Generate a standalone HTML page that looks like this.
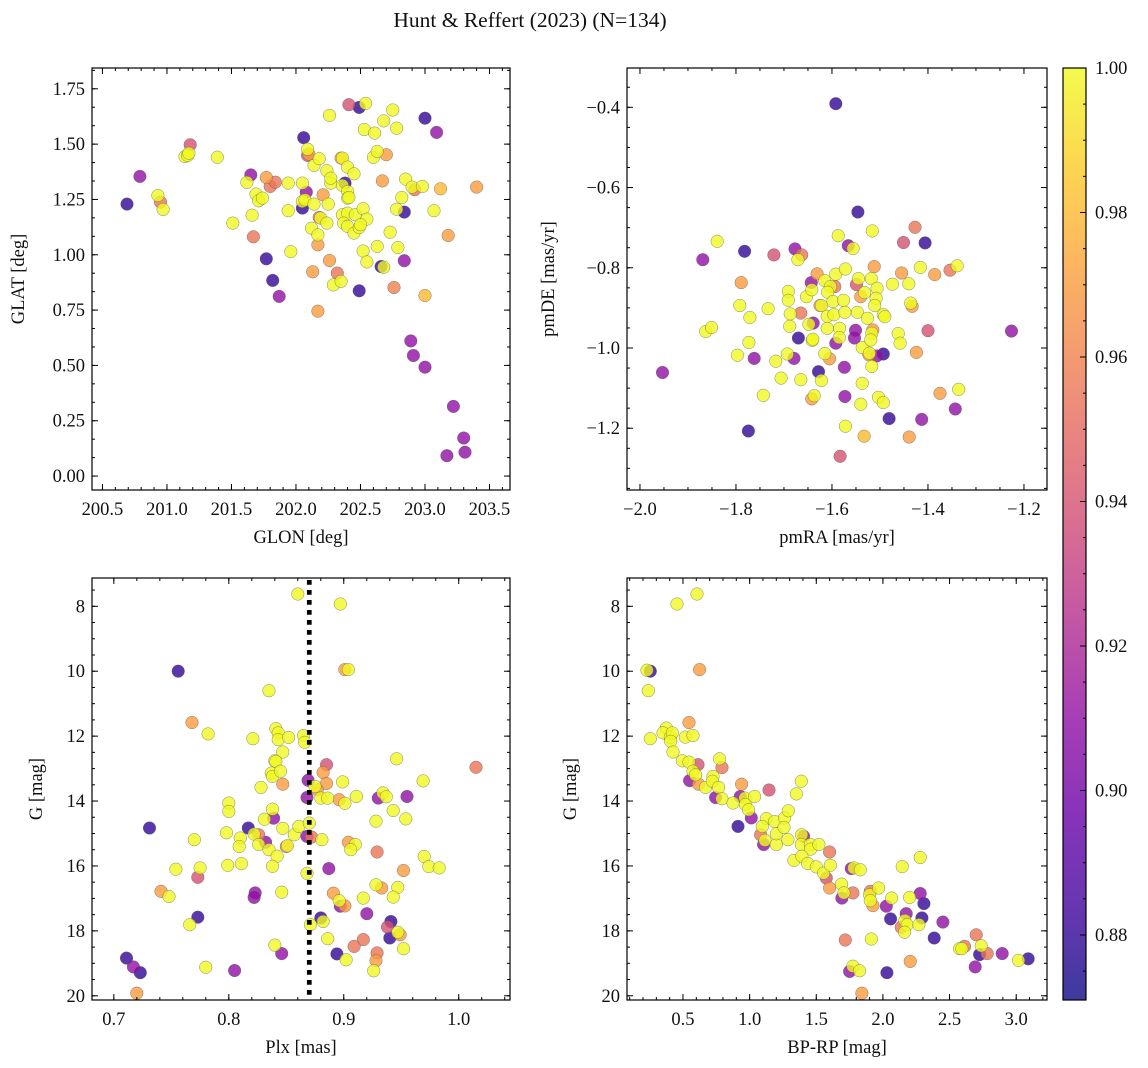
<!DOCTYPE html>
<html>
<head>
<meta charset="utf-8">
<style>
html,body{margin:0;padding:0;background:#fff;}
svg{display:block;}
text{font-family:"Liberation Serif",serif;fill:#111;}
</style>
</head>
<body>
<svg id="fig" width="1148" height="1068" viewBox="0 0 1148 1068" xmlns="http://www.w3.org/2000/svg">
<defs>
<linearGradient id="cbgrad" x1="0" y1="1" x2="0" y2="0"></linearGradient>
</defs>
<text x="530" y="27" font-size="21.5" text-anchor="middle">Hunt &amp; Reffert (2023) (N=134)</text>
</svg>
<script>
// ---- Panel 1 data: GLON / GLAT ----
const glon=[200.69,200.79,200.93,200.95,200.97,201.18,201.14,201.16,201.17,201.39,201.51,201.65,201.62,201.66,201.67,201.69,201.71,201.74,201.77,201.80,201.84,201.77,201.82,201.87,201.94,201.94,201.96,202.06,202.05,202.08,202.05,202.05,202.07,202.09,202.09,202.10,202.14,202.14,202.18,202.21,202.24,202.27,202.27,202.25,202.18,202.19,202.24,202.12,202.17,202.17,202.26,202.13,202.26,202.32,202.29,202.35,202.17,202.41,202.49,202.54,202.35,202.36,202.40,202.45,202.38,202.36,202.40,202.40,202.41,202.36,202.40,202.37,202.40,202.45,202.46,202.52,202.55,202.49,202.50,202.49,202.53,202.61,202.60,202.63,202.70,202.68,202.75,202.78,202.67,202.52,202.55,202.63,202.66,202.68,202.73,202.76,202.79,202.78,202.84,202.84,202.82,202.85,202.90,202.92,202.98,203.00,203.00,203.09,203.07,203.12,203.18,203.40,202.89,202.91,203.00,203.22,203.30,203.31,203.17];
const glat=[1.229,1.354,1.268,1.238,1.205,1.497,1.444,1.449,1.459,1.441,1.143,1.361,1.327,1.179,1.081,1.274,1.244,1.256,1.349,1.309,1.328,0.982,0.884,0.812,1.324,1.199,1.014,1.529,1.324,1.283,1.211,1.241,1.248,1.449,1.477,1.455,1.229,1.404,1.434,1.271,1.380,1.324,1.346,1.229,1.169,1.166,1.143,1.120,1.090,1.045,0.974,0.923,1.630,0.917,0.864,0.880,0.745,1.678,1.666,1.684,1.437,1.437,1.396,1.366,1.324,1.313,1.286,1.256,1.259,1.181,1.188,1.143,1.128,1.098,1.181,1.208,1.161,1.123,1.136,0.837,1.566,1.550,1.440,1.467,1.452,1.605,1.654,1.572,1.334,1.017,0.968,1.038,0.947,0.944,1.102,0.852,1.033,1.206,1.193,0.973,1.259,1.342,1.306,1.294,1.309,1.617,0.816,1.553,1.199,1.298,1.087,1.306,0.611,0.545,0.492,0.315,0.172,0.108,0.092];
const prob1=[0.88,0.91,1,0.955,1,0.94,1,1,1,1,1,0.91,1,1,0.955,1,1,1,0.97,0.955,0.955,0.88,0.88,0.91,1,1,1,0.88,1,0.91,0.88,1,1,0.94,1,0.97,1,1,1,0.97,1,1,1,1,0.955,1,1,1,1,0.97,0.97,0.97,1,0.955,1,1,0.97,0.94,0.88,1,0.97,1,1,1,0.88,1,1,1,1,1,1,1,1,1,1,1,1,1,1,0.88,1,1,1,1,0.97,1,1,1,0.97,1,1,1,0.88,1,1,0.96,1,1,0.88,0.91,1,1,1,0.955,1,0.88,0.98,0.91,1,0.98,0.97,0.97,0.91,0.91,0.91,0.91,0.91,0.91,0.91];
const glonTicks=[200.5,201.0,201.5,202.0,202.5,203.0,203.5];
const glatTicks=[0.00,0.25,0.50,0.75,1.00,1.25,1.50,1.75];

// ---- Panel 2 data: pmRA / pmDE ----
const pmra=[-1.592,-1.546,-1.427,-1.516,-1.451,-1.406,-1.587,-1.566,-1.556,-1.839,-1.869,-1.782,-1.721,-1.677,-1.663,-1.671,-1.789,-1.631,-1.592,-1.572,-1.512,-1.455,-1.416,-1.386,-1.354,-1.339,-1.643,-1.615,-1.603,-1.594,-1.549,-1.545,-1.518,-1.506,-1.474,-1.440,-1.691,-1.691,-1.653,-1.642,-1.609,-1.598,-1.576,-1.540,-1.532,-1.508,-1.511,-1.436,-1.433,-1.792,-1.733,-1.771,-1.687,-1.665,-1.625,-1.622,-1.610,-1.596,-1.573,-1.547,-1.526,-1.493,-1.490,-1.863,-1.851,-1.688,-1.639,-1.648,-1.610,-1.584,-1.551,-1.515,-1.517,-1.462,-1.458,-1.400,-1.226,-1.670,-1.641,-1.640,-1.592,-1.585,-1.553,-1.537,-1.519,-1.773,-1.797,-1.762,-1.717,-1.693,-1.679,-1.615,-1.605,-1.574,-1.523,-1.522,-1.507,-1.493,-1.517,-1.424,-1.953,-1.706,-1.665,-1.628,-1.622,-1.743,-1.642,-1.637,-1.573,-1.537,-1.540,-1.503,-1.493,-1.375,-1.336,-1.343,-1.481,-1.413,-1.774,-1.572,-1.533,-1.439,-1.583];
const pmde=[-0.391,-0.661,-0.699,-0.708,-0.737,-0.738,-0.720,-0.745,-0.752,-0.734,-0.780,-0.759,-0.768,-0.753,-0.768,-0.780,-0.837,-0.815,-0.816,-0.803,-0.797,-0.813,-0.799,-0.817,-0.806,-0.795,-0.837,-0.832,-0.847,-0.847,-0.842,-0.827,-0.827,-0.851,-0.841,-0.840,-0.859,-0.881,-0.872,-0.855,-0.861,-0.884,-0.881,-0.872,-0.862,-0.876,-0.894,-0.888,-0.896,-0.894,-0.902,-0.924,-0.915,-0.913,-0.894,-0.894,-0.921,-0.917,-0.911,-0.911,-0.926,-0.917,-0.922,-0.959,-0.949,-0.946,-0.938,-0.941,-0.951,-0.951,-0.956,-0.955,-0.963,-0.964,-0.988,-0.957,-0.958,-0.975,-0.981,-0.978,-0.988,-0.974,-0.975,-0.999,-0.980,-0.986,-1.018,-1.026,-1.033,-1.015,-1.026,-1.014,-1.027,-1.048,-1.017,-1.013,-1.020,-1.015,-1.046,-1.011,-1.061,-1.075,-1.079,-1.059,-1.081,-1.118,-1.127,-1.119,-1.121,-1.088,-1.140,-1.123,-1.136,-1.113,-1.103,-1.152,-1.176,-1.178,-1.207,-1.195,-1.220,-1.222,-1.270];
const prob2=[0.88,0.88,0.955,1,0.94,0.88,1,0.91,1,1,0.91,0.88,0.94,0.91,0.955,1,0.97,0.97,1,1,0.97,0.97,1,0.97,0.955,1,0.91,1,1,0.955,0.94,1,1,1,1,1,1,1,1,1,1,1,1,0.97,1,1,1,1,0.97,1,1,1,1,0.955,0.97,1,1,1,1,1,1,1,1,1,1,1,0.91,1,1,1,0.91,0.97,1,1,1,0.94,0.91,0.88,1,1,0.91,1,0.91,1,1,1,1,0.91,1,1,0.91,1,0.97,0.91,0.97,1,0.91,0.88,1,0.97,0.91,1,1,0.88,1,1,0.97,1,0.91,1,1,1,1,0.97,1,0.91,0.88,0.91,0.88,1,0.98,0.97,0.94];
const pmraTicks=[-2.0,-1.8,-1.6,-1.4,-1.2];
const pmdeTicks=[-0.4,-0.6,-0.8,-1.0,-1.2];

// ---- Panel 3 data: Plx / G ----
const plx=[0.860,0.897,0.756,0.901,0.904,0.835,0.768,0.782,0.821,0.841,0.843,0.843,0.852,0.865,0.866,0.847,0.840,0.841,0.837,0.838,0.845,0.828,0.847,0.885,0.882,0.885,0.869,0.875,0.877,0.868,0.880,0.886,0.899,0.896,0.901,0.911,0.930,0.934,0.937,0.955,0.946,0.969,1.015,0.800,0.800,0.838,0.839,0.831,0.817,0.822,0.826,0.832,0.826,0.835,0.842,0.838,0.847,0.857,0.861,0.870,0.868,0.872,0.881,0.851,0.850,0.798,0.810,0.809,0.770,0.731,0.754,0.775,0.773,0.799,0.811,0.868,0.887,0.904,0.910,0.906,0.928,0.943,0.954,0.929,0.970,0.974,0.983,0.952,0.741,0.748,0.823,0.822,0.846,0.891,0.896,0.897,0.901,0.917,0.928,0.933,0.947,0.943,0.920,0.941,0.938,0.940,0.947,0.949,0.773,0.766,0.880,0.882,0.871,0.886,0.917,0.909,0.840,0.846,0.894,0.902,0.929,0.928,0.926,0.952,0.711,0.717,0.723,0.780,0.805,0.720];
const g3=[7.62,7.93,10.00,9.95,9.95,10.60,11.58,11.93,12.08,11.77,11.90,12.11,12.04,11.98,12.19,12.49,12.76,12.78,13.14,13.24,13.08,13.58,13.48,12.88,13.12,13.46,13.36,13.55,13.65,13.89,13.91,13.91,13.41,13.96,14.07,13.86,13.91,13.75,13.87,13.86,12.70,13.38,12.96,14.06,14.32,14.25,14.53,14.56,14.83,15.02,15.04,15.27,15.34,15.50,15.70,16.01,14.84,15.04,14.78,14.68,15.09,15.11,15.19,15.38,15.40,14.98,15.14,15.40,15.19,14.83,16.10,16.06,16.35,15.98,15.93,16.23,16.08,15.27,15.34,15.50,14.62,14.29,14.55,15.57,15.71,16.02,16.06,16.14,16.78,16.94,16.83,16.97,16.81,16.84,17.07,17.24,17.23,16.99,16.58,16.68,16.66,16.96,17.47,17.71,17.88,18.22,18.04,18.12,17.58,17.81,17.60,17.71,17.81,18.24,18.27,18.48,18.44,18.70,18.71,18.89,18.68,18.92,19.23,18.55,18.84,19.11,19.29,19.12,19.22,19.92];
const prob3=[1,1,0.88,0.97,1,1,0.97,1,1,1,1,1,1,1,1,1,1,1,1,1,1,1,0.97,0.94,0.97,0.97,0.91,1,0.97,0.91,1,1,1,0.97,1,1,0.91,1,1,0.91,1,1,0.955,1,1,1,0.91,1,0.88,1,0.955,0.91,1,1,1,1,1,1,1,1,0.91,0.955,1,1,0.96,1,1,1,1,0.88,1,1,0.94,1,1,1,0.91,0.97,1,1,1,1,1,0.955,1,1,1,0.97,0.97,1,0.91,0.91,1,0.97,1,0.91,0.97,1,1,0.97,1,1,0.91,0.88,0.94,0.88,1,0.97,0.88,1,0.88,1,1,1,0.955,0.955,1,0.91,0.88,1,0.955,0.97,1,1,0.88,0.91,0.88,1,0.91,0.97];
const plxTicks=[0.7,0.8,0.9,1.0];
const gTicks=[8,10,12,14,16,18,20];
const plxCut=[0.87];

// ---- Panel 4 data: BP-RP / G ----
const bprp=[0.455,0.605,0.255,0.23,0.625,0.24,0.545,0.255,0.375,0.35,0.405,0.42,0.4075,0.425,0.5175,0.575,0.495,0.545,0.6125,0.575,0.595,0.55,0.6175,0.67,0.725,0.72,0.7675,0.775,0.7925,0.745,0.7925,0.875,0.94,0.93,0.965,0.9675,0.9925,1.0125,1.0375,1.145,0.9125,1.0825,1.105,1.115,1.125,1.095,1.2,1.2,1.1875,1.2625,1.2575,1.29,1.2875,1.3875,1.35,1.405,1.39,1.3875,1.455,1.4575,1.52,1.3325,1.3925,1.435,1.5,1.555,1.575,1.6,1.605,1.6,1.69,1.6925,1.7075,1.775,1.7625,1.7825,1.83,1.905,1.9,1.925,1.905,1.9675,2.025,2.0575,2.065,2.145,2.2,2.28,2.28,2.3075,2.175,2.1375,2.165,2.1825,2.1625,2.27,2.2925,2.45,2.385,1.9125,1.7175,2.03,2.205,1.75,1.775,1.825,1.8425,2.575,2.6125,2.5925,2.7,2.7375,2.725,2.7825,2.895,2.6925,3.0175,3.09];
const g4=[7.93,7.62,10.00,9.97,9.95,10.60,11.58,12.08,11.75,11.90,12.04,11.90,12.16,12.49,12.03,11.98,12.76,12.80,12.88,13.08,13.19,13.37,13.48,13.58,13.24,13.39,13.58,12.70,12.97,13.89,13.93,14.06,13.48,13.86,13.91,14.11,14.27,14.52,13.86,13.66,14.78,15.04,15.34,15.21,14.54,14.78,15.34,15.01,14.63,14.52,14.81,14.30,15.19,13.39,13.78,15.09,15.04,15.34,15.34,15.48,15.34,15.83,15.70,15.92,16.03,16.22,16.37,15.57,15.98,16.68,16.56,16.99,16.83,16.83,16.08,16.06,16.12,16.78,16.89,17.22,17.07,16.68,17.24,17.63,16.99,16.02,16.97,15.74,16.85,17.16,17.47,17.89,17.68,17.81,18.04,17.81,17.60,17.73,18.22,18.25,18.28,19.29,18.94,19.25,19.09,19.23,19.92,18.55,18.48,18.55,18.12,18.46,18.73,18.70,18.70,19.11,18.91,18.86];
const prob4=[1,1,0.88,1,0.97,1,0.97,1,1,1,1,1,1,1,1,1,1,1,0.94,1,1,0.91,0.97,1,1,1,1,1,0.955,0.91,1,1,0.97,0.91,1,1,1,0.91,1,0.94,0.88,0.955,0.91,1,1,1,1,1,1,1,1,1,1,1,1,0.91,1,1,1,1,1,1,1,1,1,1,0.94,0.955,1,0.97,1,0.91,1,0.955,0.91,1,1,0.955,1,0.97,1,1,0.91,0.88,1,1,1,1,0.91,0.88,0.91,0.955,1,1,1,1,0.88,0.91,0.88,1,0.955,0.88,0.97,0.91,1,1,0.97,1,0.955,1,0.955,1,0.88,0.955,0.91,0.91,1,0.88];
const bprpTicks=[0.5,1.0,1.5,2.0,2.5,3.0];
const cbTicks=[0.88,0.90,0.92,0.94,0.96,0.98,1.00];
const cbMin=0.871, cbMax=1.0;

const NS='http://www.w3.org/2000/svg';
const svg=document.getElementById('fig');
const TF=18.5, LF=18.5;
function mk(tag,attrs,parent){const e=document.createElementNS(NS,tag);for(const k in attrs)e.setAttribute(k,attrs[k]);(parent||svg).appendChild(e);return e;}
const stops=[[13,8,135],[65,4,157],[106,0,168],[143,13,164],[177,42,144],[204,71,120],[225,100,98],[242,132,75],[252,166,54],[252,206,37],[240,249,33]];
function plasma(t){t=Math.max(0,Math.min(1,t));const f=t*10,i=Math.min(9,Math.floor(f)),u=f-i;const a=stops[i],b=stops[i+1];return 'rgb('+a.map((v,k)=>Math.round(v+(b[k]-v)*u)).join(',')+')';}
function cnorm(p){return (p-cbMin)/(cbMax-cbMin);}
function fmt(v,d){const s=Math.abs(v).toFixed(d);return (v<-1e-9?'\u2212':'')+s;}

function panel(cfg){
  const {id,x0,x1,y0,y1,xmin,xmax,ymin,ymax,inv}=cfg;
  const sx=v=>x0+(v-xmin)/(xmax-xmin)*(x1-x0);
  const sy=inv?(v=>y0+(v-ymin)/(ymax-ymin)*(y1-y0)):(v=>y1-(v-ymin)/(ymax-ymin)*(y1-y0));
  const g=mk('g',{});
  
  
  const idx=cfg.xs.map((_,i)=>i).sort((a,b)=>cfg.cs[a]-cfg.cs[b]||a-b);
  const pg=mk('g',{},g);
  
  
  idx.forEach(i=>{
    const c=mk('circle',{cx:sx(cfg.xs[i]).toFixed(1),cy:sy(cfg.ys[i]).toFixed(1),r:6.3,fill:plasma(cnorm(cfg.cs[i])),'fill-opacity':0.8,stroke:'#555','stroke-width':0.5,'stroke-opacity':0.7},pg);
    
    
  });
  if(cfg.vline){cfg.vline.forEach(v=>{
    const l=mk('line',{x1:sx(v),x2:sx(v),y1:y0+2,y2:y1,stroke:'#000','stroke-width':4.7,'stroke-dasharray':'4.7 5.3'},g);
    
    
  });}
  const tg=mk('g',{stroke:'#000','stroke-width':1},g);
  
  
  function xt(v,len){const X=sx(v);if(X<x0-0.5||X>x1+0.5)return;mk('line',{x1:X,x2:X,y1:y1,y2:y1-len},tg);mk('line',{x1:X,x2:X,y1:y0,y2:y0+len},tg);}
  function yt(v,len){const Y=sy(v);if(Y<y0-0.5||Y>y1+0.5)return;mk('line',{x1:x0,x2:x0+len,y1:Y,y2:Y},tg);mk('line',{x1:x1,x2:x1-len,y1:Y,y2:Y},tg);}
  for(let v=Math.ceil(Math.min(xmin,xmax)/cfg.xMin)*cfg.xMin;v<=Math.max(xmin,xmax);v+=cfg.xMin)xt(v,3);
  for(let v=Math.ceil(Math.min(ymin,ymax)/cfg.yMin)*cfg.yMin;v<=Math.max(ymin,ymax);v+=cfg.yMin)yt(v,3);
  cfg.xT.forEach(v=>xt(v,6));
  cfg.yT.forEach(v=>yt(v,6));
  cfg.xT.forEach(v=>{
    const t=mk('text',{x:sx(v),y:y1+25,'font-size':TF,'text-anchor':'middle'},g);
    t.textContent=fmt(v,cfg.xd);
    
    
  });
  cfg.yT.forEach(v=>{
    const t=mk('text',{x:x0-7,y:sy(v)+6,'font-size':TF,'text-anchor':'end'},g);
    t.textContent=fmt(v,cfg.yd);
    
    
  });
  const fr=mk('rect',{x:x0,y:y0,width:x1-x0,height:y1-y0,fill:'none',stroke:'#000','stroke-width':1.2},g);
  
  
  const xl=mk('text',{x:(x0+x1)/2,y:y1+53,'font-size':LF,'text-anchor':'middle'},g);
  xl.textContent=cfg.xlab;
  
  
  const yc=(y0+y1)/2;
  const yl=mk('text',{x:cfg.ylx,y:yc,'font-size':LF,'text-anchor':'middle','dominant-baseline':'central',transform:'rotate(-90 '+cfg.ylx+' '+yc+')'},g);
  yl.textContent=cfg.ylab;
  
  
}

panel({id:'glon-glat',x0:92,x1:510,y0:68,y1:490,xmin:200.419,xmax:203.659,ymin:-0.063,ymax:1.844,inv:false,xs:glon,ys:glat,cs:prob1,xT:glonTicks,yT:glatTicks,xMin:0.1,yMin:0.25/3,xd:1,yd:2,xlab:'GLON [deg]',ylab:'GLAT [deg]',ylx:19});
panel({id:'pm',x0:627,x1:1047,y0:68,y1:490,xmin:-2.027,xmax:-1.152,ymin:-1.354,ymax:-0.302,inv:false,xs:pmra,ys:pmde,cs:prob2,xT:pmraTicks,yT:pmdeTicks,xMin:0.05,yMin:0.05,xd:1,yd:1,xlab:'pmRA [mas/yr]',ylab:'pmDE [mas/yr]',ylx:549});
panel({id:'plx-g',x0:92,x1:510,y0:578,y1:1000,xmin:0.681,xmax:1.0446,ymin:7.128,ymax:20.13,inv:true,xs:plx,ys:g3,cs:prob3,xT:plxTicks,yT:gTicks,xMin:0.02,yMin:0.5,xd:1,yd:0,xlab:'Plx [mas]',ylab:'G [mag]',ylx:37,vline:plxCut});
panel({id:'cmd',x0:627,x1:1047,y0:578,y1:1000,xmin:0.080,xmax:3.231,ymin:7.128,ymax:20.13,inv:true,xs:bprp,ys:g4,cs:prob4,xT:bprpTicks,yT:gTicks,xMin:0.1,yMin:0.5,xd:1,yd:0,xlab:'BP-RP [mag]',ylab:'G [mag]',ylx:571});

const grad=document.getElementById('cbgrad');
for(let i=0;i<=20;i++){mk('stop',{offset:(i/20),'stop-color':plasma(i/20)},grad);}
const cx0=1063,cx1=1086,cy0=68,cy1=1000;
const cb=mk('g',{});


mk('rect',{x:cx0,y:cy0,width:cx1-cx0,height:cy1-cy0,fill:'url(#cbgrad)','fill-opacity':0.8},cb);
mk('rect',{x:cx0,y:cy0,width:cx1-cx0,height:cy1-cy0,fill:'none',stroke:'#000','stroke-width':1.2},cb);
const cy=v=>cy1-(v-cbMin)/(cbMax-cbMin)*(cy1-cy0);
for(let v=0.875;v<1.0;v+=0.005){mk('line',{x1:cx1,x2:cx1-3,y1:cy(v),y2:cy(v),stroke:'#000'},cb);}
cbTicks.forEach(v=>{
  mk('line',{x1:cx1,x2:cx1-6,y1:cy(v),y2:cy(v),stroke:'#000'},cb);
  const t=mk('text',{x:cx1+9,y:cy(v)+6,'font-size':TF},cb);
  t.textContent=v.toFixed(2);
  
  
});
</script>
</body>
</html>
